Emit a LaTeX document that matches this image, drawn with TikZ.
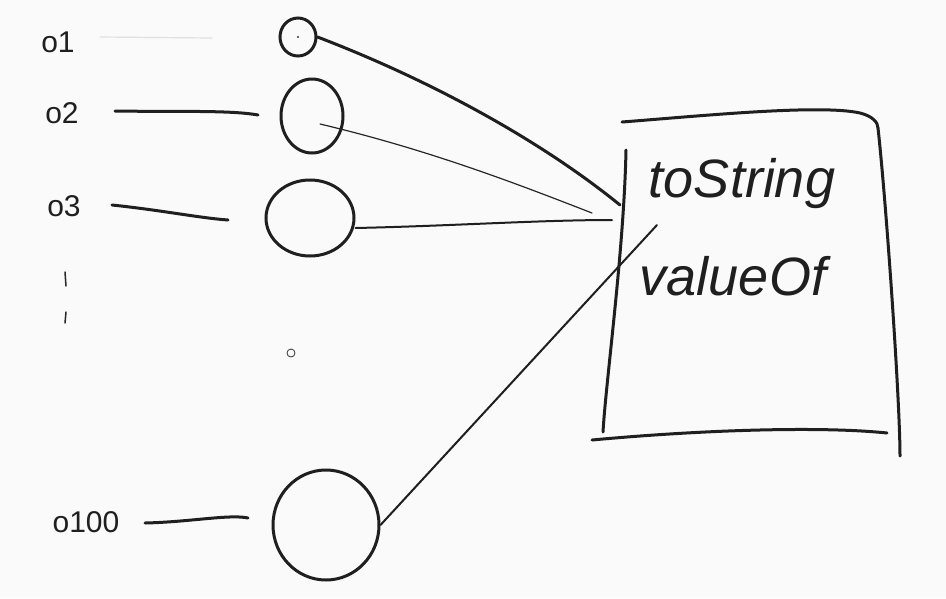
\documentclass[tikz,border=0pt]{standalone}
\usepackage{fontspec}
\setmainfont{Liberation Sans}
\usetikzlibrary{shapes.geometric}
\begin{document}
\begin{tikzpicture}[x=1pt,y=-1pt,
  ink/.style={line width=3pt, line cap=round, line join=round, black!88},
  thinink/.style={line width=1.2pt, line cap=round, black!85},
  obj/.style={ellipse, draw, line width=3pt, black!88, inner sep=0pt},
  lbl/.style={font=\fontsize{30}{30}\selectfont, text=black!88, inner sep=0pt},
  method/.style={font=\itshape\fontsize{54}{54}\selectfont, text=black!88, inner sep=0pt}]
\fill[white!98!black] (0,0) rectangle (946,598);
\useasboundingbox (0,0) rectangle (946,598);

% labels
\node[lbl] (l1) at (58,42) {o1};
\node[lbl] (l2) at (62,113) {o2};
\node[lbl] (l3) at (64,206) {o3};
\node[lbl] (l100) at (86,522) {o100};
\coordinate (d1) at (65,272); \coordinate (d1b) at (66,286);
\coordinate (d2) at (66,312); \coordinate (d2b) at (65,323);
\draw[thinink, line width=1.5pt] (d1) -- (d1b);
\draw[thinink, line width=1.5pt] (d2) -- (d2b);

% objects
\node[obj, minimum width=36, minimum height=38] (c1) at (298,37) {};
\fill[black!80] (c1.center) circle (1.2);
\node[obj, minimum width=62, minimum height=74] (c2) at (312,116) {};
\node[obj, minimum width=88, minimum height=76] (c3) at (310,218) {};
\node[obj, minimum width=106, minimum height=110] (c4) at (326,525) {};
\node[draw, circle, line width=0.8pt, minimum size=8, inner sep=0pt, black!80] (dot) at (291,353) {};

% reference lines
\coordinate (r1a) at (100,37); \coordinate (r1b) at (212,38);
\coordinate (r2a) at (115,111); \coordinate (r2b) at (258,115);
\coordinate (r3a) at (112,205); \coordinate (r3b) at (228,220);
\coordinate (r4a) at (145,523); \coordinate (r4b) at (248,518);
\draw[line width=1.2pt, black!12, line cap=round] (r1a) -- (r1b);
\draw[ink] (r2a) .. controls (180,112) and (230,110) .. (r2b);
\draw[ink] (r3a) .. controls (160,210) and (200,218) .. (r3b);
\draw[ink] (r4a) .. controls (190,522) and (230,514) .. (r4b);

% prototype box
\coordinate (b1) at (622,122);
\coordinate (b2) at (878,128);
\coordinate (b3) at (900,456);
\coordinate (b4) at (592,440);
\coordinate (b5) at (887,433);
\coordinate (b6) at (626,150);
\coordinate (b7) at (603,432);
\draw[ink] (b1) .. controls (700,116) and (820,104) .. (860,113) .. controls (872,116) and (878,122) .. (b2);
\draw[ink] (b2) .. controls (886,200) and (900,400) .. (b3);
\draw[ink] (b4) .. controls (700,430) and (820,426) .. (b5);
\draw[ink] (b6) .. controls (624,250) and (606,380) .. (b7);
\node[method] (ts) at (742,184) {toString};
\node[method] (vo) at (733,276) {valueOf};
\node[draw=none, minimum width=278, minimum height=316] (box) at (750,280) {};

% connectors
\coordinate (e1) at (620,205);
\coordinate (e2) at (592,213);
\coordinate (e3) at (612,220);
\coordinate (e4) at (657,225);
\draw[ink] (c1.east) .. controls (430,80) and (540,140) .. (e1);
\draw[thinink] (c2.center) ++(8,8) .. controls (430,150) and (520,185) .. (e2);
\draw[ink, line width=2pt] (c3.east) ++(0,10) .. controls (450,226) and (540,220) .. (e3);
\draw[ink, line width=2pt] (c4.east) -- (e4);
\end{tikzpicture}
\end{document}
